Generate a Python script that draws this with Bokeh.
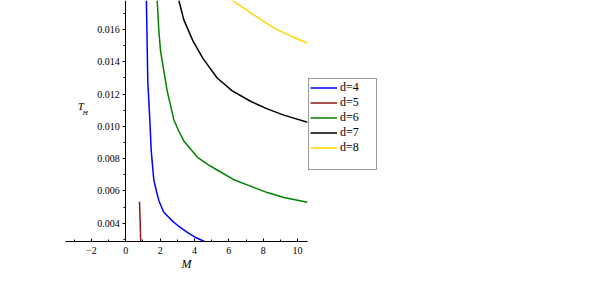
from bokeh.plotting import figure
from bokeh.models import Range1d, SingleIntervalTicker, NumeralTickFormatter, Legend, LegendItem, Label
from bokeh.embed import file_html
from bokeh.resources import INLINE

# Data
M_d4 = [1.20, 1.28, 1.40, 1.48, 1.63, 1.78, 1.93, 2.20, 2.75, 3.10, 3.58, 4.10, 4.58]
T_d4 = [0.0178, 0.0128, 0.0104, 0.0085, 0.0067, 0.0060, 0.0054, 0.0047, 0.0041, 0.0038, 0.00344, 0.0031, 0.00287]

M_d5 = [0.80, 0.87]
T_d5 = [0.00534, 0.00287]

M_d6 = [1.83, 1.92, 2.02, 2.41, 2.80, 3.09, 3.38, 4.16, 4.83, 5.32, 6.29, 7.26, 8.24, 9.20, 10.58]
T_d6 = [0.0178, 0.0160, 0.0147, 0.0122, 0.0104, 0.0097, 0.0091, 0.0081, 0.0076, 0.0073, 0.0067, 0.0063, 0.0059, 0.0056, 0.0053]

M_d7 = [3.09, 3.38, 3.91, 4.50, 5.32, 6.20, 7.26, 8.20, 9.20, 10.58]
T_d7 = [0.0178, 0.0166, 0.0153, 0.0142, 0.0130, 0.0122, 0.01156, 0.0111, 0.0107, 0.01026]

M_d8 = [6.20, 7.26, 8.24, 8.82, 9.40, 9.98, 10.58]
T_d8 = [0.0178, 0.01705, 0.01635, 0.0160, 0.0157, 0.01543, 0.01515]

labels = ["d=4", "d=5", "d=6", "d=7", "d=8"]
colors = ["#0000FF", "#8B1A1A", "#008000", "#000000", "#FFD700"]

x_ticks_interval = 2
y_ticks_interval = 0.002

SERIF = "Liberation Serif"

p = figure(frame_width=242, frame_height=241, output_backend="svg", toolbar_location=None,
           x_range=Range1d(-3.51, 10.58), y_range=Range1d(0.00287, 0.0178),
           min_border_left=65, min_border_top=0, min_border_bottom=39, min_border_right=0,
           background_fill_color="white", border_fill_color="white")
p.grid.visible = False
p.outline_line_color = None

series = [(M_d4, T_d4), (M_d5, T_d5), (M_d6, T_d6), (M_d7, T_d7), (M_d8, T_d8)]
renderers = []
for (mx, ty), c in zip(series, colors):
    r = p.line(mx, ty, line_color=c, line_width=1.5)
    renderers.append(r)
blank = p.line([], [], line_alpha=0)

# axes
xa = p.xaxis[0]
xa.ticker = SingleIntervalTicker(interval=x_ticks_interval, num_minor_ticks=2)
xa.axis_label = "M"
xa.axis_label_text_font = SERIF
xa.axis_label_text_font_style = "italic"
xa.axis_label_text_font_size = "12px"
xa.axis_label_standoff = 0
xa.major_tick_in = 3
xa.major_tick_out = 0
xa.minor_tick_in = 2
xa.minor_tick_out = 0
xa.major_label_standoff = 5

ya = p.yaxis[0]
ya.fixed_location = 0
ya.ticker = SingleIntervalTicker(interval=y_ticks_interval, num_minor_ticks=2)
ya.formatter = NumeralTickFormatter(format="0.000")
ya.major_tick_in = 0
ya.major_tick_out = 3
ya.minor_tick_in = 0
ya.minor_tick_out = 2
ya.major_label_standoff = 3

for ax in (xa, ya):
    ax.axis_line_color = "black"
    ax.major_tick_line_color = "black"
    ax.minor_tick_line_color = "black"
    ax.major_label_text_color = "black"
    ax.major_label_text_font = SERIF
    ax.major_label_text_font_size = "10px"
    ax.axis_label_text_color = "black"

# y-axis label T_H
p.add_layout(Label(x=-2.80, y=0.01129, text="T", text_font=SERIF, text_font_style="italic",
                   text_font_size="11px", text_baseline="middle", text_align="left", text_color="black"))
p.add_layout(Label(x=-2.50, y=0.01081, text="H", text_font=SERIF, text_font_style="italic",
                   text_font_size="7px", text_baseline="middle", text_align="left", text_color="black"))

items = [LegendItem(label=l, renderers=[r]) for l, r in zip(labels, renderers)]
items.append(LegendItem(label=" ", renderers=[blank]))
legend = Legend(items=items, location=(1, 71), orientation="vertical",
                label_text_font=SERIF, label_text_font_size="12px", label_text_color="black",
                glyph_width=27, glyph_height=13, label_height=13, label_width=35,
                label_standoff=3, spacing=0, padding=1, margin=0,
                border_line_color="#333333", border_line_width=1,
                background_fill_color="white", background_fill_alpha=1.0)
p.add_layout(legend, "right")

open("out.html", "w").write(file_html(p, INLINE))
